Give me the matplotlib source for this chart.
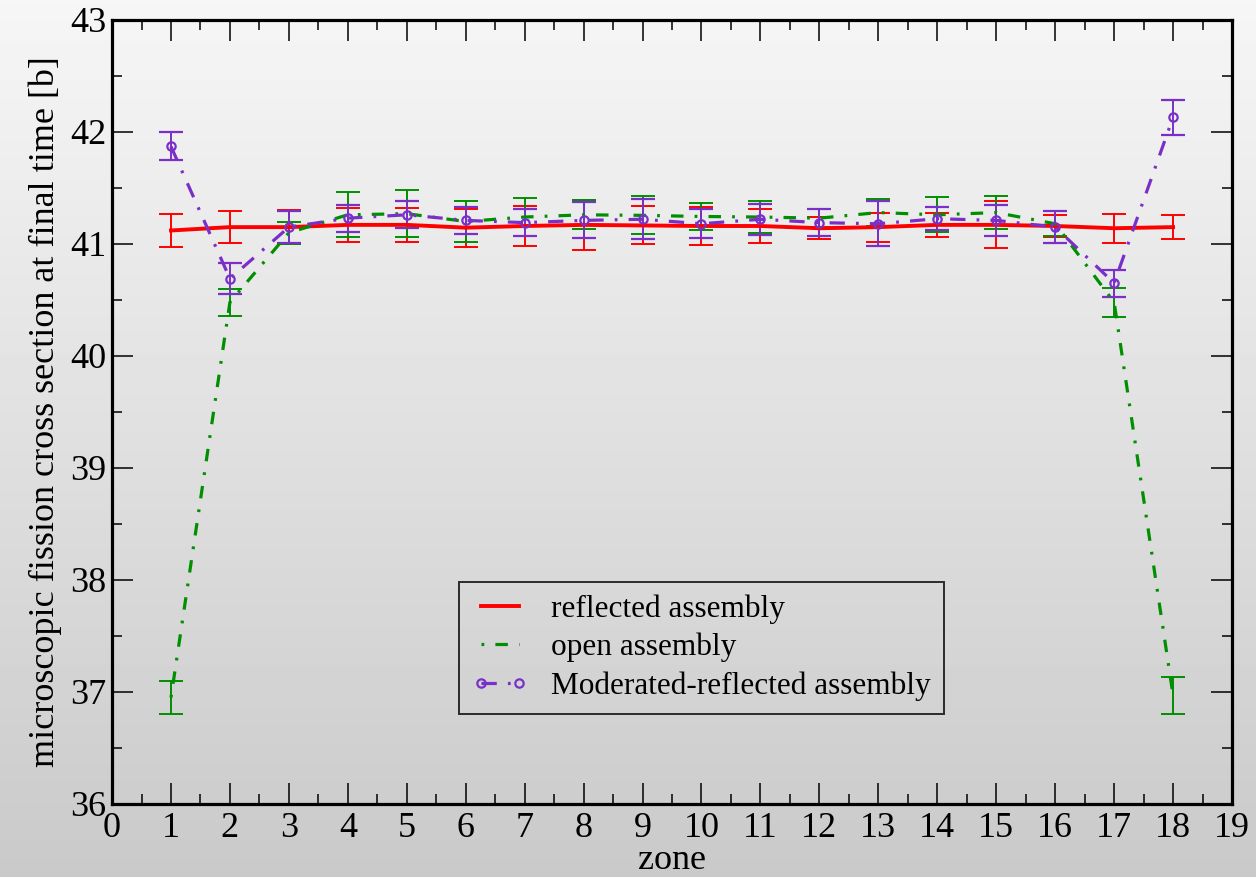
import numpy as np
import matplotlib
matplotlib.use("Agg")
import matplotlib.pyplot as plt
from matplotlib.lines import Line2D
from matplotlib.ticker import MultipleLocator

# zone-wise microscopic fission cross section at final time [b]
zones = list(range(1, 19))

reflected = [41.12, 41.15, 41.15, 41.17, 41.17, 41.145, 41.16, 41.17, 41.165,
             41.16, 41.16, 41.14, 41.15, 41.17, 41.17, 41.16, 41.14, 41.15]
reflected_err = [0.15, 0.14, 0.15, 0.15, 0.15, 0.17, 0.18, 0.22, 0.17,
                 0.17, 0.15, 0.10, 0.13, 0.11, 0.21, 0.10, 0.13, 0.11]

open_asm = [36.95, 40.48, 41.10, 41.26, 41.27, 41.20, 41.24, 41.26, 41.255,
            41.245, 41.24, 41.23, 41.28, 41.26, 41.28, 41.18, 40.48, 36.97]
open_err = [0.15, 0.12, 0.10, 0.20, 0.21, 0.18, 0.17, 0.13, 0.17,
            0.12, 0.14, 0.08, 0.12, 0.155, 0.15, 0.11, 0.13, 0.165]

moderated = [41.87, 40.69, 41.15, 41.23, 41.26, 41.21, 41.19, 41.21, 41.22,
             41.18, 41.22, 41.19, 41.18, 41.225, 41.21, 41.15, 40.65, 42.13]
moderated_err = [0.125, 0.14, 0.14, 0.12, 0.12, 0.12, 0.12, 0.16, 0.18,
                 0.13, 0.14, 0.12, 0.20, 0.105, 0.14, 0.14, 0.12, 0.155]

labels = ["reflected assembly", "open assembly", "Moderated-reflected assembly"]

plt.rcParams['font.family'] = ['Liberation Serif', 'DejaVu Serif']
plt.rcParams['lines.scale_dashes'] = False

fig = plt.figure(figsize=(12.56, 8.77), dpi=100)

# slide-like grey gradient behind everything
bg = fig.add_axes([0, 0, 1, 1], zorder=-10)
grad = np.linspace(0.79, 0.965, 256).reshape(-1, 1)
bg.imshow(grad, aspect='auto', cmap='gray', vmin=0, vmax=1,
          extent=[0, 1, 0, 1], origin='lower')
bg.axis('off')

ax = fig.add_axes([0.0892, 0.0833, 0.8917, 0.894])
ax.patch.set_alpha(0)

red = '#ff0000'
green = '#008f00'
purple = '#7a30c8'

red_style = dict(color=red, lw=2.8)
green_style = dict(color=green, lw=2.3, dashes=(2, 8, 9, 8))
purple_style = dict(color=purple, lw=2.3, dashes=(11, 8, 2, 8), marker='o',
                    ms=6, mfc='none', mew=1.6)
bar_style = dict(elinewidth=1.4, capsize=8.5, capthick=1.4)

ax.errorbar(zones, reflected, yerr=reflected_err, **red_style, **bar_style)
ax.errorbar(zones, open_asm, yerr=open_err, **green_style, **bar_style)
ax.errorbar(zones, moderated, yerr=moderated_err, **purple_style, **bar_style)

ax.set_xlim(0, 19)
ax.set_ylim(36, 43)
ax.xaxis.set_major_locator(MultipleLocator(1))
ax.xaxis.set_minor_locator(MultipleLocator(0.5))
ax.yaxis.set_major_locator(MultipleLocator(1))
ax.yaxis.set_minor_locator(MultipleLocator(0.5))
ax.tick_params(which='both', direction='in', top=True, right=True,
               width=1.1, colors='black')
ax.tick_params(which='major', length=15, labelsize=26)
ax.tick_params(which='minor', length=7.5)
ax.tick_params(axis='x', which='major', pad=6)
ax.tick_params(axis='y', which='major', pad=4)
for sp in ax.spines.values():
    sp.set_linewidth(2.3)

ax.set_xlabel("zone", fontsize=26, labelpad=-1)
ax.set_ylabel("microscopic fission cross section at final time [b]",
              fontsize=26, labelpad=6)

# legend uses plain line samples, no error bars
handles = [Line2D([], [], **red_style),
           Line2D([], [], **green_style),
           Line2D([], [], **purple_style)]
leg = ax.legend(handles, labels, loc='lower left',
                bbox_to_anchor=(0.31, 0.115), fontsize=22.5,
                numpoints=2, handlelength=1.8, handletextpad=0.75,
                labelspacing=0.3, borderpad=0.4, borderaxespad=0,
                fancybox=False, frameon=True)
frame = leg.get_frame()
frame.set_facecolor('none')
frame.set_edgecolor('black')
frame.set_linewidth(1.4)

fig.savefig("out.png", dpi=100)
